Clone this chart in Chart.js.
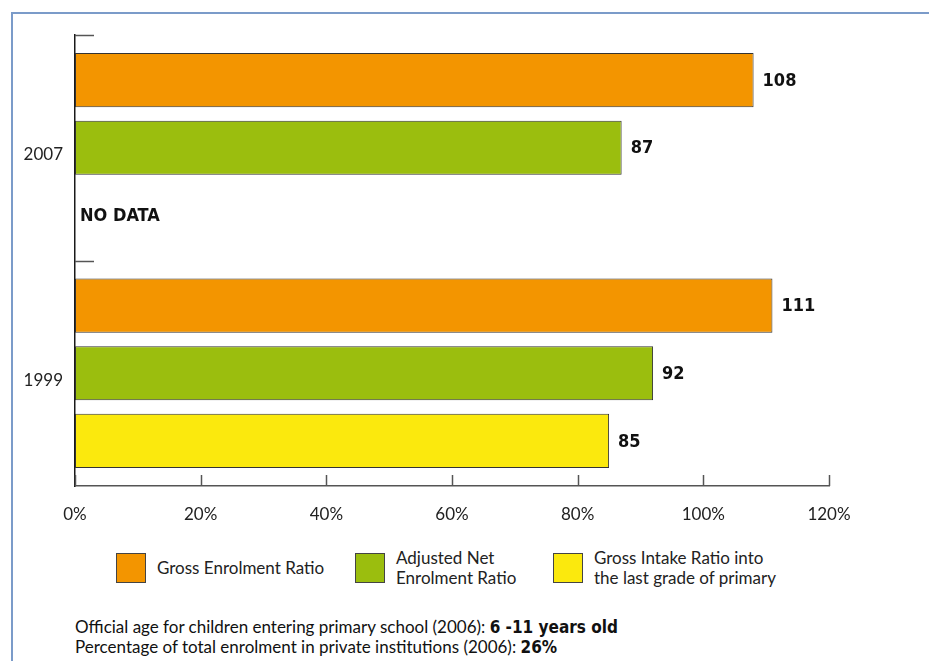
<!DOCTYPE html>
<html>
<head>
    <title>Enrolment ratios</title>
    <script src="https://cdn.jsdelivr.net/npm/chart.js@4.4.1/dist/chart.umd.min.js"></script>
    <style>
        body {
            margin: 0;
            background-color: white;
            font-family: Lato, "Liberation Sans", sans-serif;
            color: #222;
        }
        #page {
            position: relative;
            width: 929px;
            height: 661px;
            overflow: hidden;
        }
        .frame-top {
            position: absolute;
            left: 11px;
            top: 12px;
            width: 918px;
            height: 2px;
            background-color: #7b9bc9;
        }
        .frame-left {
            position: absolute;
            left: 11px;
            top: 12px;
            width: 2px;
            height: 649px;
            background-color: #7b9bc9;
        }
        .chart-wrap {
            position: absolute;
            left: 0;
            top: 0;
        }
        .legend-item {
            position: absolute;
            top: 553px;
            display: flex;
            align-items: center;
            height: 30px;
        }
        .legend-box {
            width: 28px;
            height: 28px;
            border: 1px solid #444;
            margin-right: 11px;
            flex: none;
        }
        .legend-text {
            font-size: 17px;
            line-height: 20px;
            white-space: nowrap;
        }
        #notes {
            position: absolute;
            left: 75px;
            top: 617px;
            font-size: 17px;
            line-height: 19px;
            color: #111;
        }
        #notes b {
            font-family: "Liberation Sans Narrow", "DejaVu Sans Condensed", sans-serif;
            font-size: 17px;
        }
    </style>
</head>
<body>
<div id="page">
    <div class="frame-top"></div>
    <div class="frame-left"></div>
    <div class="chart-wrap">
        <canvas id="enrolChart" width="929" height="530"></canvas>
    </div>
    <div id="legend"></div>
    <div id="notes">
        <div>Official age for children entering primary school (2006): <b>6 -11 years old</b></div>
        <div>Percentage of total enrolment in private institutions (2006): <b>26%</b></div>
    </div>
</div>

<script>
const years = ['2007', '1999'];
const grossEnrolment = [108, 111];
const adjustedNet = [87, 92];
const grossIntake = [null, 85];
const seriesLabels = [
    ['Gross Enrolment Ratio'],
    ['Adjusted Net', 'Enrolment Ratio'],
    ['Gross Intake Ratio into', 'the last grade of primary']
];
const seriesColors = ['#f39500', '#9bbe0e', '#fbe90d'];
const xTicks = [0, 20, 40, 60, 80, 100, 120];
const noDataText = 'NO DATA';

const boldFont = '"Liberation Sans Narrow", "DejaVu Sans Condensed", sans-serif';

function makeDataset(i, values) {
    return {
        label: seriesLabels[i].join(' '),
        data: values,
        backgroundColor: seriesColors[i],
        borderColor: '#333',
        borderWidth: 1,
        borderSkipped: false,
        categoryPercentage: 0.9,
        barPercentage: 0.8
    };
}

// ticks on both axes point into the plot
const innerTicks = {
    id: 'innerTicks',
    afterDraw(chart) {
        const ctx = chart.ctx;
        const xs = chart.scales.x;
        const ys = chart.scales.y;
        ctx.save();
        ctx.strokeStyle = '#555';
        ctx.lineWidth = 1.5;
        xTicks.forEach(v => {
            const px = Math.round(xs.getPixelForValue(v)) + 0.5;
            ctx.beginPath();
            ctx.moveTo(px, xs.top);
            ctx.lineTo(px, xs.top - 11);
            ctx.stroke();
        });
        const half = (ys.getPixelForValue(1) - ys.getPixelForValue(0)) / 2;
        years.forEach((y, i) => {
            const py = Math.round(ys.getPixelForValue(i) - half) + 0.5;
            ctx.beginPath();
            ctx.moveTo(ys.right, py);
            ctx.lineTo(ys.right + 19, py);
            ctx.stroke();
        });
        ctx.restore();
    }
};

const valueLabels = {
    id: 'valueLabels',
    afterDatasetsDraw(chart) {
        const ctx = chart.ctx;
        ctx.save();
        ctx.fillStyle = '#111';
        ctx.textBaseline = 'middle';
        ctx.textAlign = 'left';
        chart.data.datasets.forEach((ds, di) => {
            const meta = chart.getDatasetMeta(di);
            meta.data.forEach((el, i) => {
                const v = ds.data[i];
                if (v === null) {
                    ctx.font = 'bold 18px ' + boldFont;
                    ctx.fillText(noDataText, chart.scales.x.left + 5, el.y + 1);
                } else {
                    ctx.font = 'bold 18px ' + boldFont;
                    ctx.fillText(String(v), el.x + 9, el.y + 1);
                }
            });
        });
        ctx.restore();
    }
};

const config = {
    type: 'bar',
    data: {
        labels: years,
        datasets: [
            makeDataset(0, grossEnrolment),
            makeDataset(1, adjustedNet),
            makeDataset(2, grossIntake)
        ]
    },
    options: {
        indexAxis: 'y',
        responsive: false,
        animation: false,
        layout: {
            padding: { top: 35, right: 100, left: 0, bottom: 0 }
        },
        plugins: {
            legend: { display: false },
            tooltip: { enabled: false }
        },
        scales: {
            x: {
                min: 0,
                max: 120,
                afterBuildTicks(scale) {
                    scale.ticks = xTicks.map(v => ({ value: v }));
                },
                afterFit(scale) {
                    scale.height = 44;
                },
                ticks: {
                    callback: v => v + '%',
                    color: '#222',
                    font: { family: 'Lato', size: 17 },
                    padding: 18,
                    maxRotation: 0
                },
                grid: { display: false, drawTicks: false },
                border: { display: true, color: '#555', width: 1.5 }
            },
            y: {
                afterFit(scale) {
                    scale.width = 75;
                },
                ticks: {
                    color: '#222',
                    font: { family: 'Lato', size: 17 },
                    padding: 12,
                    labelOffset: 7
                },
                grid: { display: false, drawTicks: false },
                border: { display: true, color: '#1a1a1a', width: 1.5 }
            }
        }
    },
    plugins: [innerTicks, valueLabels]
};

new Chart(document.getElementById('enrolChart').getContext('2d'), config);

// legend with wrapped labels
const legendLefts = [116, 355, 553];
const legend = document.getElementById('legend');
seriesLabels.forEach((lines, i) => {
    const item = document.createElement('div');
    item.className = 'legend-item';
    item.style.left = legendLefts[i] + 'px';
    const box = document.createElement('div');
    box.className = 'legend-box';
    box.style.backgroundColor = seriesColors[i];
    const text = document.createElement('div');
    text.className = 'legend-text';
    text.innerHTML = lines.join('<br>');
    item.appendChild(box);
    item.appendChild(text);
    legend.appendChild(item);
});
</script>
</body>
</html>
